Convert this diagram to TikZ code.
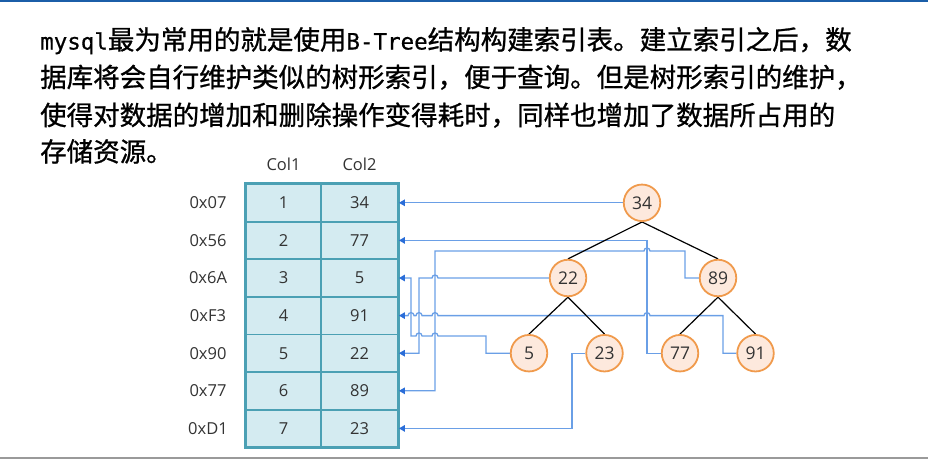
\documentclass[tikz,border=0pt]{standalone}
\usepackage{fontspec}
\setmainfont{Open Sans}
\newfontfamily\cjkf[FakeBold=0.9]{Noto Sans CJK SC}
\newfontfamily\monof[FakeBold=0.6]{DejaVu Sans Mono}
\usetikzlibrary{arrows.meta}
\pgfdeclarelayer{fg}
\pgfsetlayers{main,fg}
\definecolor{topline}{HTML}{1B5EA8}
\definecolor{botline}{HTML}{9A9A9A}
\definecolor{cellfill}{HTML}{D4EBF1}
\definecolor{celldraw}{HTML}{4BA0B4}
\definecolor{treefill}{HTML}{FDE9DD}
\definecolor{treedraw}{HTML}{F09A4C}
\definecolor{connc}{HTML}{6A9FE6}
\definecolor{arrc}{HTML}{2A6DD8}
\definecolor{txt}{HTML}{333333}
\newcommand\latx[1]{{\monof\fontsize{22.5}{26}\selectfont #1}}
\begin{document}
\begin{tikzpicture}[x=1pt,y=-1pt,
  para/.style={anchor=base west,inner sep=0pt,font=\cjkf\fontsize{26.5}{30}\selectfont},
  cell/.style={draw=celldraw,fill=cellfill,line width=1.8pt,minimum height=37.6pt,inner sep=0pt,text=txt,font=\fontsize{16.5}{19}\selectfont},
  lbl/.style={inner sep=0pt,text=txt,font=\fontsize{16.5}{19}\selectfont},
  tn/.style={circle,draw=treedraw,fill=treefill,line width=1.8pt,minimum size=36.5pt,inner sep=0pt,text=txt,font=\fontsize{17.5}{20}\selectfont},
  edge/.style={draw=black,line width=1.2pt},
  conn/.style={draw=connc,line width=1.3pt,-{Triangle[length=6pt,width=6.5pt,color=arrc]}}
]
\useasboundingbox (0,0) rectangle (928,459);
\draw[topline,line width=2pt] (0,1) -- (928,1);
\draw[botline,line width=2pt] (0,458) -- (928,458);

\node[para] (l1) at (40,49.5) {\latx{mysql}最为常用的就是使用\latx{B-Tree}结构构建索引表。建立索引之后，数};
\node[para] (l2) at (40,87) {据库将会自行维护类似的树形索引，便于查询。但是树形索引的维护，};
\node[para] (l3) at (40,125) {使得对数据的增加和删除操作变得耗时，同样也增加了数据所占用的};
\node[para] (l4) at (40,161.5) {存储资源。};

\node[lbl] (h1) at (283.5,164.5) {Col1};
\node[lbl] (h2) at (359.5,164.5) {Col2};

\foreach \i/\a/\b/\ad in {1/1/34/0x07,2/2/77/0x56,3/3/5/0x6A,4/4/91/0xF3,5/5/22/0x90,6/6/89/0x77,7/7/23/0xD1}{
  \node[cell,minimum width=75pt] (k\i) at (283.5,{184+37.6*\i-18.8}) {\a};
  \node[cell,minimum width=77pt] (v\i) at (359.5,{184+37.6*\i-18.8}) {\b};
  \node[lbl] (a\i) at (208,{184+37.6*\i-18.8}) {\ad};
}
\draw[celldraw,line width=2.4pt] (k1.north west) rectangle (v7.south east);

\begin{pgfonlayer}{fg}
\node[tn] (n34) at (642,202.8) {34};
\node[tn] (n22) at (568,278) {22};
\node[tn] (n89) at (718,278) {89};
\node[tn] (n5) at (529,353.2) {5};
\node[tn] (n23) at (604.5,353.2) {23};
\node[tn] (n77) at (680,353.2) {77};
\node[tn] (n91) at (755.5,353.2) {91};
\end{pgfonlayer}

\draw[conn] (n34.west) -- (v1.east);
\draw[conn] (n77.west) -- (647,353.2) |- (v2.east);
\draw[conn] (n89.west) -- (685,278) -- (685,251) -- (650,251) arc[start angle=0,end angle=180,radius=3pt] -- (435,251) |- (v6.east);
\draw[conn] (n22.west) -- (438,278) arc[start angle=0,end angle=180,radius=3pt] -- (419,278) |- (v5.east);
\draw[conn] (n91.west) -- (723,353.2) -- (723,315.6) -- (650,315.6) arc[start angle=0,end angle=180,radius=3pt] -- (438,315.6) arc[start angle=0,end angle=180,radius=3pt] -- (422,315.6) arc[start angle=0,end angle=180,radius=3pt] -- (414,315.6) arc[start angle=0,end angle=180,radius=3pt] -- (v4.east);
\draw[conn] (n5.west) -- (486,353.2) -- (486,336) -- (438,336) arc[start angle=0,end angle=180,radius=3pt] -- (422,336) arc[start angle=0,end angle=180,radius=3pt] -- (411,336) |- (v3.east);
\draw[conn] (n23.west) -- (572,353.2) |- (v7.east);

\draw[edge] (n34.south) -- (n22.north);
\draw[edge] (n34.south) -- (n89.north);
\draw[edge] (n22.south) -- (n5.north);
\draw[edge] (n22.south) -- (n23.north);
\draw[edge] (n89.south) -- (n77.north);
\draw[edge] (n89.south) -- (n91.north);
\end{tikzpicture}
\end{document}
